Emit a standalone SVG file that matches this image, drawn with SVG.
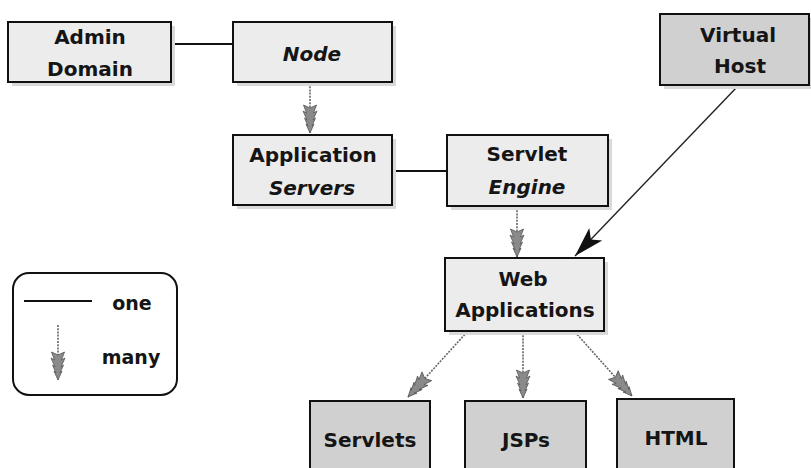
<svg xmlns="http://www.w3.org/2000/svg" width="811" height="468" viewBox="0 0 811 468">
<style>
  .box{stroke:#111;stroke-width:2}
  .light{fill:#ececec}
  .dark{fill:#d0d0d0}
  .shadow{fill:#d9d9d9}
  .t{font-family:"DejaVu Sans","Liberation Sans",sans-serif;font-weight:bold;font-size:20px;fill:#151515;text-anchor:middle}
  .it{font-style:italic}
  .one{stroke:#111;stroke-width:2;fill:none}
  .many{stroke:#666;stroke-width:1.6;stroke-dasharray:2 1.2;fill:none}
  .ref{stroke:#222;stroke-width:1.4;fill:none}
</style>
<defs>
  <marker id="manyHead" markerUnits="userSpaceOnUse" markerWidth="32" markerHeight="18" viewBox="-30 -9 32 18" refX="0" refY="0" orient="auto">
    <path d="M0,0 L-9,-4 L-7,-2 L-15,-5.5 L-13,-3 L-22,-7 L-20,-3.5 L-28,-6.5 L-25,0 L-28,6.5 L-20,3.5 L-22,7 L-13,3 L-15,5.5 L-7,2 L-9,4 Z" fill="#8a8a8a" stroke="#555" stroke-width="0.8"/>
  </marker>
  <marker id="solidHead" markerUnits="userSpaceOnUse" markerWidth="34" markerHeight="24" viewBox="-32 -12 34 24" refX="0" refY="0" orient="auto">
    <path d="M0,0 L-30,-9 L-23,0 L-30,9 Z" fill="#111"/>
  </marker>
</defs>

<g id="connectors">
  <line class="one" x1="171" y1="44" x2="233" y2="44"/>
  <line class="one" x1="392" y1="171" x2="447" y2="171"/>
  <line class="many" x1="310" y1="83" x2="310" y2="133" marker-end="url(#manyHead)"/>
  <line class="many" x1="517" y1="207" x2="517" y2="257" marker-end="url(#manyHead)"/>
  <line class="many" x1="467" y1="332" x2="408" y2="397" marker-end="url(#manyHead)"/>
  <line class="many" x1="523" y1="332" x2="523" y2="398" marker-end="url(#manyHead)"/>
  <line class="many" x1="575" y1="332" x2="632" y2="396" marker-end="url(#manyHead)"/>
  <line class="ref" x1="737" y1="87" x2="575" y2="256" marker-end="url(#solidHead)"/>
</g>

<g id="admin-domain">
  <rect class="shadow" x="12" y="26" width="163" height="60"/>
  <rect class="box light" x="8" y="22" width="163" height="60"/>
  <text class="t" x="90" y="44">Admin</text>
  <text class="t" x="90" y="76">Domain</text>
</g>

<g id="node">
  <rect class="shadow" x="237" y="26" width="159" height="60"/>
  <rect class="box light" x="233" y="22" width="159" height="60"/>
  <text class="t it" x="312" y="61">Node</text>
</g>

<g id="virtual-host">
  <rect class="shadow" x="664" y="18" width="150" height="71"/>
  <rect class="box dark" x="660" y="14" width="149" height="71"/>
  <text class="t" x="738" y="42">Virtual</text>
  <text class="t" x="740" y="73">Host</text>
</g>

<g id="application-servers">
  <rect class="shadow" x="237" y="139" width="159" height="70"/>
  <rect class="box light" x="233" y="135" width="159" height="70"/>
  <text class="t" x="313" y="162">Application</text>
  <text class="t it" x="312" y="195">Servers</text>
</g>

<g id="servlet-engine">
  <rect class="shadow" x="451" y="139" width="161" height="71"/>
  <rect class="box light" x="447" y="135" width="161" height="71"/>
  <text class="t" x="527" y="161">Servlet</text>
  <text class="t it" x="527" y="194">Engine</text>
</g>

<g id="web-applications">
  <rect class="shadow" x="449" y="262" width="159" height="73"/>
  <rect class="box light" x="445" y="258" width="159" height="73"/>
  <text class="t" x="523" y="286">Web</text>
  <text class="t" x="525" y="317">Applications</text>
</g>

<g id="servlets">
  <rect class="box dark" x="310" y="401" width="120" height="75"/>
  <text class="t" x="370" y="447">Servlets</text>
</g>

<g id="jsps">
  <rect class="box dark" x="465" y="401" width="121" height="75"/>
  <text class="t" x="526" y="447">JSPs</text>
</g>

<g id="html">
  <rect class="box dark" x="617" y="399" width="117" height="77"/>
  <text class="t" x="676" y="445">HTML</text>
</g>

<g id="legend">
  <rect x="13" y="273" width="164" height="122" rx="16" ry="16" fill="#fff" stroke="#111" stroke-width="2"/>
  <line class="one" x1="24" y1="301" x2="92" y2="301"/>
  <text class="t" x="132" y="310" style="font-size:19px">one</text>
  <line class="many" x1="58" y1="325" x2="58" y2="380" marker-end="url(#manyHead)"/>
  <text class="t" x="131" y="364" style="font-size:19px">many</text>
</g>
</svg>
